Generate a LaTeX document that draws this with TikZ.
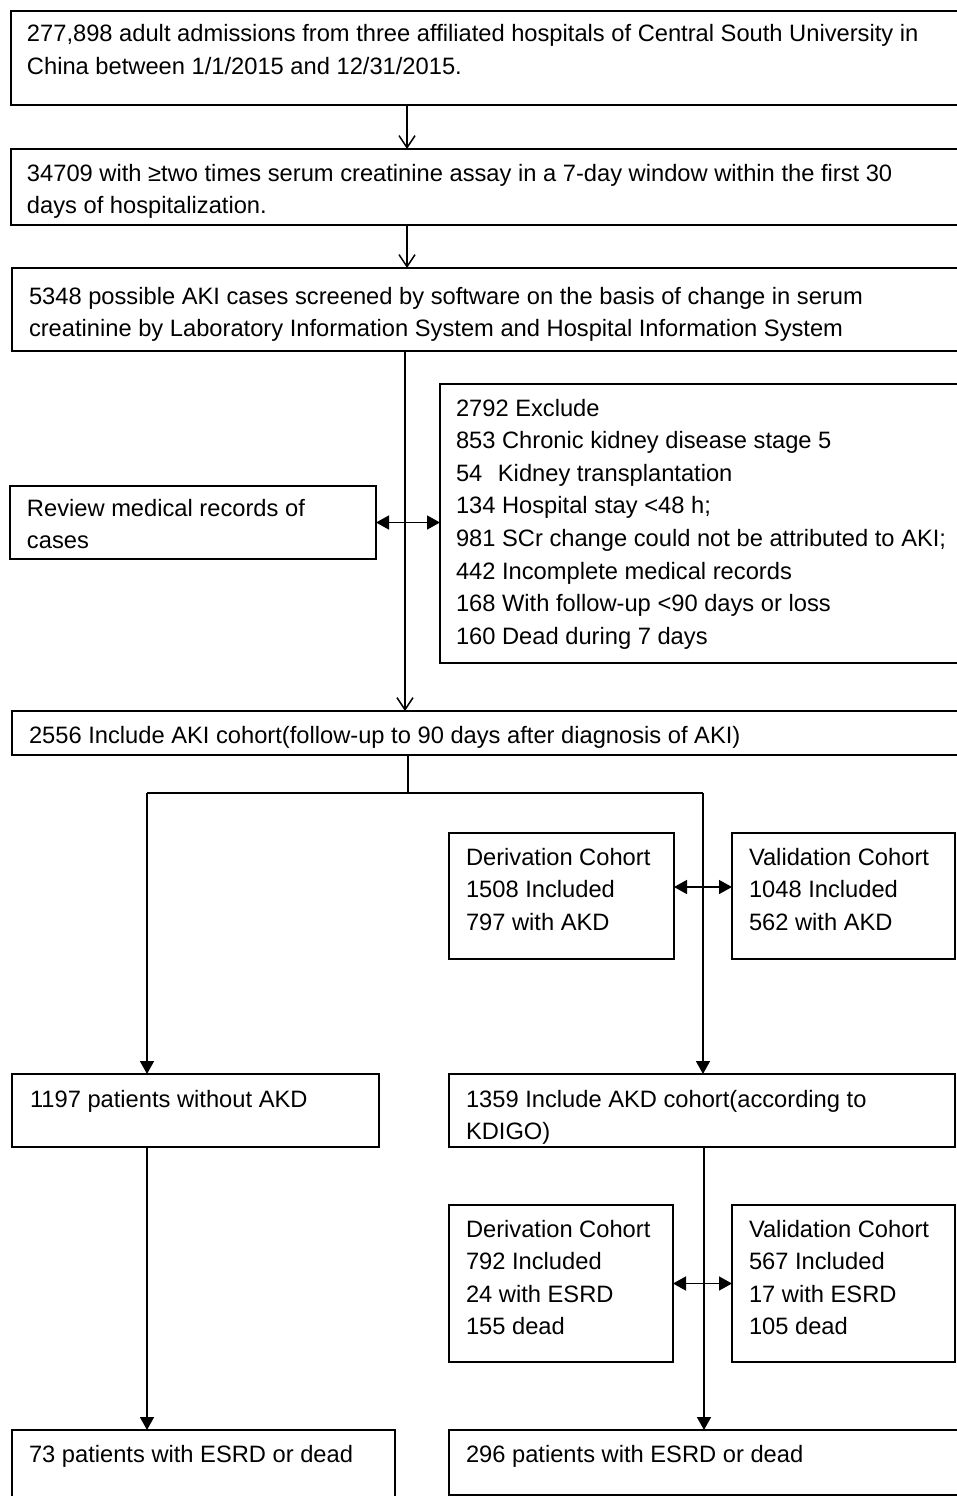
\documentclass[tikz,border=0pt]{standalone}
\usepackage{fontspec}
\setmainfont{Liberation Sans}
\usetikzlibrary{arrows.meta,calc}
\tikzset{
  box/.style={draw=black, line width=1.6pt, anchor=north west, inner sep=0pt, outer sep=0pt},
  txt/.style={anchor=north west, inner sep=0pt, outer sep=0pt, font=\fontsize{23.7}{32.6}\selectfont},
  conn/.style={line width=1.5pt},
  openarr/.style={conn, -{Straight Barb[length=12pt,width=16pt,line width=1.5pt]}},
  fillarr/.style={conn, -{Triangle[length=13pt,width=14pt]}},
  dblarr/.style={conn, {Triangle[length=13pt,width=14pt]}-{Triangle[length=13pt,width=14pt]}}
}
\newcommand{\tx}[4]{\node[txt] (t#1) at ($(#1.north west)+(#2,#3)$) {\parbox[t]{950pt}{\rule{0pt}{20pt}#4}};}
\begin{document}
\begin{tikzpicture}[x=1pt,y=-1pt]
\useasboundingbox (0,0) rectangle (957,1496);
\clip (0,0) rectangle (957,1496);
\fill[white] (0,0) rectangle (957,1496);
% boxes
\node[box, minimum width=954, minimum height=94] (b1) at (11,11) {};
\node[box, minimum width=954, minimum height=76] (b2) at (11,149) {};
\node[box, minimum width=953, minimum height=83] (b3) at (12,268) {};
\node[box, minimum width=366, minimum height=73] (rev) at (10,486) {};
\node[box, minimum width=525, minimum height=279] (exc) at (440,384) {};
\node[box, minimum width=953, minimum height=44] (aki) at (12,711) {};
\node[box, minimum width=225, minimum height=126] (d1) at (449,833) {};
\node[box, minimum width=223, minimum height=126] (v1) at (732,833) {};
\node[box, minimum width=367, minimum height=73] (p1197) at (12,1074) {};
\node[box, minimum width=506, minimum height=73] (p1359) at (449,1074) {};
\node[box, minimum width=224, minimum height=157] (d2) at (449,1205) {};
\node[box, minimum width=223, minimum height=157] (v2) at (732,1205) {};
\node[box, minimum width=383, minimum height=80] (e73) at (12,1430) {};
\node[box, minimum width=516, minimum height=65] (e296) at (449,1430) {};
% texts
\tx{b1}{16}{11}{277,898 adult admissions from three affiliated hospitals of Central South University in\\China between 1/1/2015 and 12/31/2015.}
\tx{b2}{16}{12}{34709 with ≥two times serum creatinine assay in a 7-day window within the first 30\\days of hospitalization.}
\tx{b3}{17}{16}{5348 possible AKI cases screened by software on the basis of change in serum\\creatinine by Laboratory Information System and Hospital Information System}
\tx{rev}{17}{10}{Review medical records of\\cases}
\tx{exc}{16}{12}{2792 Exclude\\853 Chronic kidney disease stage 5\\54\hspace{9pt} Kidney transplantation\\134 Hospital stay <48 h;\\981 SCr change could not be attributed to AKI;\\442 Incomplete medical records\\168 With follow-up <90 days or loss\\160 Dead during 7 days}
\tx{aki}{17}{12}{2556 Include AKI cohort(follow-up to 90 days after diagnosis of AKI)}
\tx{d1}{17}{12}{Derivation Cohort\\1508 Included\\797 with AKD}
\tx{v1}{17}{12}{Validation Cohort\\1048 Included\\562 with AKD}
\tx{p1197}{18}{13}{1197 patients without AKD}
\tx{p1359}{17}{13}{1359 Include AKD cohort(according to\\KDIGO)}
\tx{d2}{17}{12}{Derivation Cohort\\792 Included\\24 with ESRD\\155 dead}
\tx{v2}{17}{12}{Validation Cohort\\567 Included\\17 with ESRD\\105 dead}
\tx{e73}{17}{12}{73 patients with ESRD or dead}
\tx{e296}{17}{12}{296 patients with ESRD or dead}
% connector positions
\coordinate (xa) at (407,0);
\coordinate (xb) at (405,0);
\coordinate (xc) at (408,0);
\coordinate (xl) at (147,0);
\coordinate (xr) at (703,0);
\coordinate (xs) at (704,0);
\coordinate (ya) at (0,887);
\coordinate (split) at (408,793);
\draw[openarr] (xa |- b1.south) -- (xa |- b2.north);
\draw[openarr] (xa |- b2.south) -- (xa |- b3.north);
\draw[openarr] (xb |- b3.south) -- (xb |- aki.north);
\draw[dblarr] (rev.east) -- (rev.east -| exc.west);
\draw[conn] (xc |- aki.south) -- (split);
\draw[conn] (xl |- split) -- (xr |- split);
\draw[fillarr] (xl |- split) -- (xl |- p1197.north);
\draw[fillarr] (xr |- split) -- (xr |- p1359.north);
\draw[dblarr] (d1.east |- ya) -- (v1.west |- ya);
\draw[fillarr] (xl |- p1197.south) -- (xl |- e73.north);
\draw[fillarr] (xs |- p1359.south) -- (xs |- e296.north);
\draw[dblarr] (d2.east) -- (d2.east -| v2.west);
\end{tikzpicture}
\end{document}
